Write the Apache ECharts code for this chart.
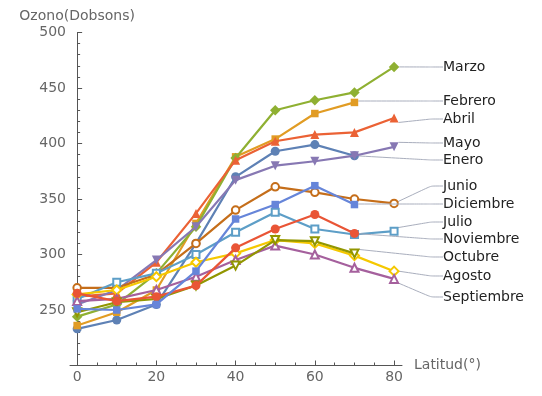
<!DOCTYPE html>
<html>
<head>
<meta charset="utf-8">
<script src="https://cdn.jsdelivr.net/npm/echarts@6/dist/echarts.min.js"></script>
<style>
  html, body { margin: 0; padding: 0; background: #fff; }
  #chart { width: 542px; height: 396px; }
</style>
</head>
<body>
<div id="chart"></div>
<script>
// Total ozone (Dobson units) by latitude, one series per month
const latitudes = [0, 10, 20, 30, 40, 50, 60, 70, 80];
const months = ['Enero', 'Febrero', 'Marzo', 'Abril', 'Mayo', 'Junio',
                'Julio', 'Agosto', 'Septiembre', 'Octubre', 'Noviembre', 'Diciembre'];

const enero      = [233, 241, 255, 310, 370, 393, 399, 389];
const febrero    = [236, 248, 268, 328, 388, 404, 427, 437];
const marzo      = [244, 255, 283, 325, 387, 430, 439, 446, 469];
const abril      = [262, 265, 293, 337, 385, 402, 408, 410, 423];
const mayo       = [255, 268, 295, 325, 367, 380, 384, 389, 397];
const junio      = [270, 270, 282, 310, 340, 361, 356, 350, 346];
const julio      = [260, 275, 283, 300, 320, 338, 323, 318, 321];
const agosto     = [264, 268, 280, 293, 301, 313, 310, 299, 285];
const septiembre = [258, 260, 268, 280, 295, 308, 300, 288, 278];
const octubre    = [248, 257, 260, 272, 290, 313, 312, 301];
const noviembre  = [265, 258, 262, 272, 306, 323, 336, 319];
const diciembre  = [251, 250, 255, 285, 332, 345, 362, 345];

const monthValues = [enero, febrero, marzo, abril, mayo, junio,
                     julio, agosto, septiembre, octubre, noviembre, diciembre];

const xTickLabels = [0, 20, 40, 60, 80];
const yTickLabels = [250, 300, 350, 400, 450, 500];

// ---- styling ----
const FONT = 'DejaVu Sans';
const palette = ['#5E81B5', '#E19C24', '#8FB032', '#EB6235', '#8778B3', '#C56E1A',
                 '#5D9EC7', '#F5C800', '#A5609D', '#929600', '#E95536', '#6685D9'];
const markers = [
  { symbol: 'circle', size: 9 },
  { symbol: 'rect', size: 7.5 },
  { symbol: 'diamond', size: 10.5 },
  { symbol: 'triangle', size: 9 },
  { symbol: 'triangle', size: 9, rotate: 180 },
  { symbol: 'emptyCircle', size: 7.5, empty: true },
  { symbol: 'emptyRect', size: 7, empty: true },
  { symbol: 'emptyDiamond', size: 9, empty: true },
  { symbol: 'emptyTriangle', size: 8, empty: true },
  { symbol: 'emptyTriangle', size: 8, rotate: 180, empty: true },
  { symbol: 'circle', size: 9 },
  { symbol: 'rect', size: 7.5 }
];
// vertical placement of the month callouts in the right margin
const calloutX = 443;
const calloutY = {
  Marzo: 67, Febrero: 101, Abril: 119, Mayo: 143, Enero: 160, Junio: 186,
  Diciembre: 204, Julio: 222, Noviembre: 239, Octubre: 257, Agosto: 276, Septiembre: 297
};

const minorX = [];
for (let v = 5; v <= 80; v += 5) if (v % 20 !== 0) minorX.push(v);

const axisColor = '#555';
const textColor = '#666';

const series = months.map((name, k) => {
  const vals = monthValues[k];
  const m = markers[k];
  const last = vals.length - 1;
  return {
    name: name,
    type: 'line',
    data: vals.map((v, i) => i === last
      ? { value: [latitudes[i], v], label: { show: true } }
      : [latitudes[i], v]),
    symbol: m.symbol,
    symbolSize: m.size,
    symbolRotate: m.rotate || 0,
    showAllSymbol: true,
    lineStyle: { color: palette[k], width: 2.2 },
    itemStyle: { color: palette[k], borderColor: palette[k], borderWidth: m.empty ? 1.5 : 0 },
    label: {
      show: false,
      formatter: name,
      color: '#222',
      fontFamily: FONT,
      fontSize: 14
    },
    labelLine: {
      show: true,
      length2: 12,
      smooth: 0.15,
      lineStyle: { color: '#a9aebd', width: 1 }
    },
    labelLayout: { x: calloutX, y: calloutY[name], align: 'left', verticalAlign: 'middle' },
    emphasis: { disabled: true },
    z: 2 + k
  };
});

const chart = echarts.init(document.getElementById('chart'), null, { renderer: 'canvas' });
chart.setOption({
  animation: false,
  backgroundColor: '#fff',
  grid: { left: 70, right: 140, top: 32.5, bottom: 30.5, containLabel: false },
  xAxis: [{
    type: 'value',
    min: -1.8,
    max: 82,
    axisLine: { show: true, onZero: false, lineStyle: { color: axisColor, width: 1 } },
    axisTick: { show: true, inside: true, length: 5, customValues: xTickLabels,
                lineStyle: { color: axisColor } },
    axisLabel: { customValues: xTickLabels, color: textColor, fontFamily: FONT, fontSize: 14, margin: 5 },
    splitLine: { show: false },
    name: 'Latitud(°)',
    nameLocation: 'end',
    nameGap: 12,
    nameTextStyle: { color: textColor, fontFamily: FONT, fontSize: 14 }
  }, {
    type: 'value',
    min: -1.8,
    max: 82,
    position: 'bottom',
    axisLine: { show: false, onZero: false },
    axisTick: { show: true, inside: true, length: 3, customValues: minorX,
                lineStyle: { color: axisColor } },
    axisLabel: { show: false },
    splitLine: { show: false }
  }],
  yAxis: {
    type: 'value',
    min: 200,
    max: 500,
    interval: 50,
    axisLine: { show: true, onZero: true, lineStyle: { color: axisColor, width: 1 } },
    axisTick: { show: true, inside: true, length: 5, lineStyle: { color: axisColor } },
    minorTick: { show: true, splitNumber: 5, length: 3, lineStyle: { color: axisColor } },
    axisLabel: { customValues: yTickLabels, color: textColor, fontFamily: FONT, fontSize: 14, margin: 4 },
    splitLine: { show: false },
    minorSplitLine: { show: false },
    name: 'Ozono(Dobsons)',
    nameLocation: 'end',
    nameGap: 9,
    nameTextStyle: { color: textColor, fontFamily: FONT, fontSize: 14, align: 'center' }
  },
  series: series
});
</script>
</body>
</html>
